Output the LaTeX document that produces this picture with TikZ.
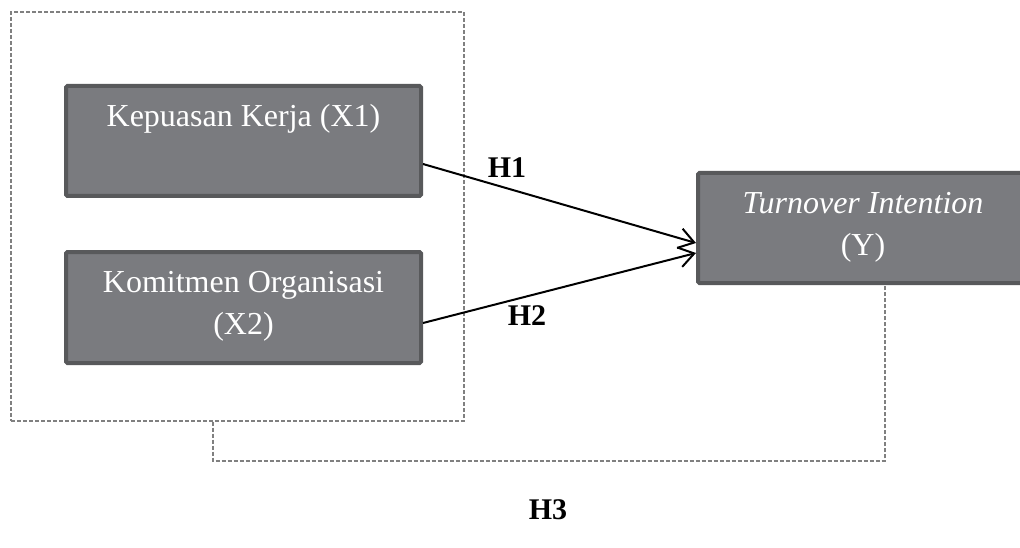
\documentclass[tikz,border=0pt]{standalone}
\usepackage{fontspec}
\setmainfont{Liberation Serif}
\usetikzlibrary{arrows.meta,calc}
\definecolor{boxfill}{RGB}{122,123,127}
\definecolor{boxline}{RGB}{88,89,91}
\definecolor{dashgray}{RGB}{128,128,128}
\tikzset{
  varbox/.style={draw=boxline, fill=boxfill, line width=4pt, rounded corners=1.5pt, inner sep=0pt},
  vartext/.style={text=white, font=\fontsize{32}{42}\selectfont, align=center, inner sep=0pt},
  hlabel/.style={font=\fontsize{30}{34}\selectfont\bfseries, inner sep=0pt},
  frame/.style={draw=dashgray, line width=1.3pt, dash pattern=on 4pt off 2pt, inner sep=0pt},
  link/.style={draw=dashgray, line width=1.6pt, dash pattern=on 4pt off 2pt},
  path/.style={draw=black, line width=2pt, -{Straight Barb[length=15pt,width=20pt,line width=2pt]}}
}
\begin{document}
\begin{tikzpicture}[x=1pt,y=-1pt]
\clip (0,0) rectangle (1020,548);
\fill[white] (0,0) rectangle (1020,548);
% outer dashed frame
\node[frame, minimum width=453pt, minimum height=409pt] (frame) at (237.5,216.5) {};
% variable boxes
\node[varbox, minimum width=355pt, minimum height=110pt] (X1) at (243.5,141) {};
\node[vartext, anchor=base] (X1t) at (243.5,127) {Kepuasan Kerja (X1)};
\node[varbox, minimum width=355pt, minimum height=111pt] (X2) at (243.5,307.5) {};
\node[vartext] (X2t) at (243.5,306.5) {Komitmen Organisasi\\(X2)};
\node[varbox, minimum width=330pt, minimum height=110pt] (Y) at (863,228) {};
\node[vartext] (Yt) at (863,227) {\textit{Turnover Intention}\\(Y)};
% arrows
\draw[path] ($(X1.east)+(0,23)$) -- ($(Y.west)+(0,15)$);
\draw[path] ($(X2.east)+(0,15.5)$) -- ($(Y.west)+(0,25)$);
% dashed connector
\coordinate (c1) at (213,461);
\coordinate (c2) at (885,461);
\draw[link] (frame.south -| c1) -- (c1) -- (c2) -- (Y.south -| c2);
% labels
\node[hlabel] (H1) at (507,168) {H1};
\node[hlabel] (H2) at (527,316) {H2};
\node[hlabel] (H3) at (548,510) {H3};
\end{tikzpicture}
\end{document}
